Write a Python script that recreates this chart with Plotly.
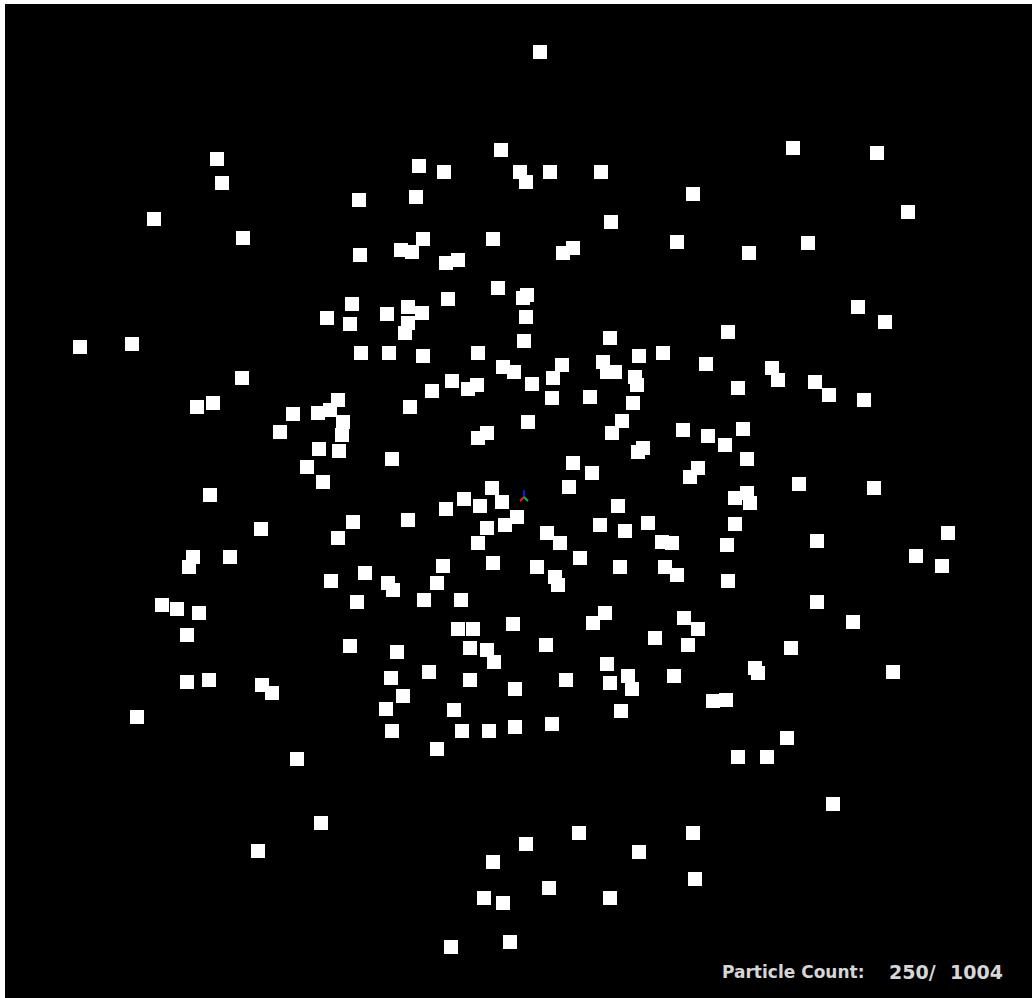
import plotly.graph_objects as go

# Particle positions (screen coordinates, y grows downward)
particle_x = [
    540, 501, 793, 877, 217, 419, 444, 520, 550, 601, 222, 526, 693, 416, 359, 908, 154, 611, 243, 493,
    423, 677, 808, 401, 412, 563, 573, 749, 360, 446, 458, 498, 523, 527, 448, 352, 858, 387, 408, 422,
    408, 405, 327, 350, 526, 885, 728, 610, 524,
    80, 132, 361, 389, 423, 478, 639, 663, 503, 514, 562, 603, 607, 615, 706, 242, 635, 637, 772, 778,
    815, 829, 864, 452, 468, 477, 532, 553, 738, 432, 552, 590, 633, 197, 213, 293, 318, 330, 338, 410,
    343, 528, 622,
    280, 342, 683, 612, 708, 725, 743, 487, 478, 643, 638, 319, 339, 392, 747, 307, 573, 592, 698, 690,
    323, 569, 799, 874, 210, 492, 464, 735, 747, 750,
    446, 480, 502, 517, 505, 487, 478, 618,
    600, 625, 648, 662, 672, 547, 560, 353, 408, 261, 338, 735, 727, 817, 948, 193, 189, 230, 580, 620,
    493, 537, 555, 558, 443, 437, 365, 388, 393, 665, 677, 916, 942, 331, 728,
    357, 424, 461, 162, 177, 199, 817, 593, 605, 513, 458, 473, 684, 698, 853, 187, 655, 350, 397, 470,
    487, 494, 546, 688, 791, 607,
    755, 758, 893, 187, 209, 262, 272, 391, 429, 470, 515, 566, 610, 628, 632, 674, 403, 713, 726, 386,
    454, 621, 137, 392, 462, 489, 515, 552, 787, 437, 738, 767, 297,
    833, 321, 579, 693, 526, 258, 639, 493, 695, 549, 484, 503, 610, 510, 451,
]
particle_y = [
    52, 150, 148, 153, 159, 166, 172, 172, 172, 172, 183, 182, 194, 197, 200, 212, 219, 222, 238, 239,
    239, 242, 243, 250, 252, 253, 248, 253, 255, 263, 260, 288, 298, 295, 299, 304, 307, 314, 307, 313,
    323, 333, 318, 324, 317, 322, 332, 338, 341,
    347, 344, 353, 353, 356, 353, 356, 353, 367, 372, 365, 362, 372, 372, 364, 378, 377, 385, 368, 380,
    382, 395, 400, 381, 389, 385, 384, 378, 388, 391, 398, 397, 403, 407, 403, 414, 413, 410, 400, 407,
    422, 422, 421,
    432, 435, 430, 433, 436, 445, 429, 433, 438, 448, 452, 449, 451, 459, 459, 467, 463, 473, 468, 477,
    482, 487, 484, 488, 495, 488, 499, 498, 493, 503,
    509, 506, 502, 517, 525, 528, 543, 506,
    525, 531, 523, 542, 543, 533, 543, 522, 520, 529, 538, 524, 545, 541, 533, 557, 567, 557, 558, 567,
    563, 567, 577, 585, 566, 583, 573, 583, 590, 567, 575, 556, 566, 581, 581,
    602, 600, 600, 605, 609, 613, 602, 623, 613, 624, 629, 629, 618, 629, 622, 635, 638, 646, 652, 648,
    650, 662, 645, 645, 648, 664,
    668, 673, 672, 682, 680, 685, 693, 678, 672, 680, 689, 680, 683, 676, 689, 676, 696, 701, 700, 709,
    710, 711, 717, 731, 731, 731, 727, 724, 738, 749, 757, 757, 759,
    804, 823, 833, 833, 844, 851, 852, 862, 879, 888, 898, 903, 898, 942, 947,
]

# Small orientation gizmo at the scene origin (x, y, z axis tips)
gizmo_origin = (524, 497)
gizmo_tips_x = [524, 520, 528]
gizmo_tips_y = [490, 501, 501]
gizmo_colors = ["#1010ff", "#ff1010", "#10c010"]

# Counter text pieces, their left edges and font sizes
count_texts = ["Particle Count:", "250/", "1004"]
count_text_x = [720, 887, 948]
count_text_size = [17, 19, 19]

fig = go.Figure()

fig.add_trace(go.Scatter(
    x=particle_x, y=particle_y, mode="markers",
    marker=dict(symbol="square", size=14, color="white", line=dict(width=0)),
    hoverinfo="skip", showlegend=False,
))

for tx, ty, c in zip(gizmo_tips_x, gizmo_tips_y, gizmo_colors):
    fig.add_trace(go.Scatter(
        x=[gizmo_origin[0], tx], y=[gizmo_origin[1], ty], mode="lines",
        line=dict(color=c, width=2), hoverinfo="skip", showlegend=False,
    ))

for txt, tx, fs in zip(count_texts, count_text_x, count_text_size):
    fig.add_annotation(x=tx, y=972, xref="x", yref="y", text=txt, showarrow=False,
                       xanchor="left", yanchor="middle",
                       font=dict(family="DejaVu Sans", size=fs, color="#d6d6d6", weight="bold"))

fig.update_layout(
    width=1032, height=998, autosize=False,
    margin=dict(l=5, r=0, t=4, b=0, pad=0),
    paper_bgcolor="white", plot_bgcolor="black",
    xaxis=dict(range=[5, 1032], visible=False, fixedrange=True),
    yaxis=dict(range=[998, 4], visible=False, fixedrange=True),
    showlegend=False,
)

fig.write_html("out.html", config={"displayModeBar": False},
               post_script="document.body.style.margin='0';document.body.style.overflow='hidden';")
